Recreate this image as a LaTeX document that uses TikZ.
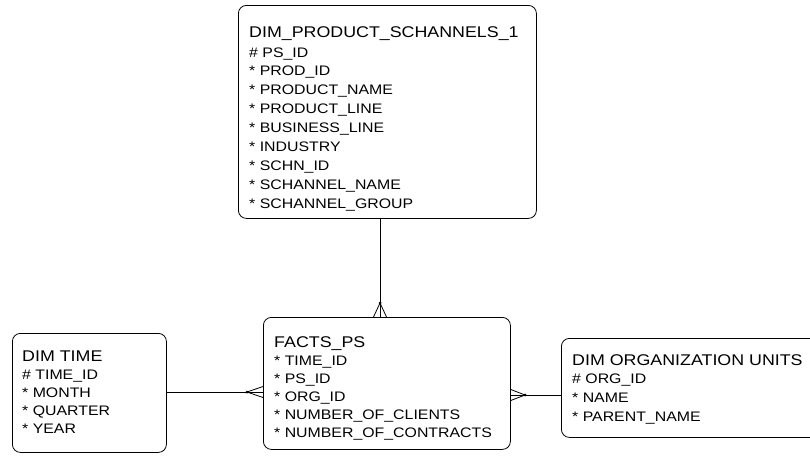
\documentclass[tikz,border=0pt]{standalone}
\usepackage{fontspec}
\newfontfamily\erfont[FakeStretch=1.15]{Liberation Sans}
\usetikzlibrary{calc}

\tikzset{
  entity/.style={draw, rounded corners=8pt, line width=0.8pt, inner sep=0pt, anchor=north west},
  etitle/.style={anchor=base west, inner sep=0pt, font=\erfont\fontsize{15.5}{18}\selectfont},
  efield/.style={anchor=base west, inner sep=0pt, font=\erfont\fontsize{13.8}{18}\selectfont},
  rel/.style={line width=0.8pt},
}

\begin{document}
\begin{tikzpicture}[x=1pt, y=1pt]
    \clip (0,0) rectangle (810,-455);

    % Entities
    \node[entity, minimum width=298pt, minimum height=213pt] (prod) at (238,-5) {};
    \node[entity, minimum width=247pt, minimum height=132pt] (facts) at (263,-317) {};
    \node[entity, minimum width=154pt, minimum height=119pt] (time) at (12,-333) {};
    \node[entity, minimum width=270pt, minimum height=99pt] (org) at (561,-338) {};

    % DIM_PRODUCT_SCHANNELS_1
    \node[etitle] (prodT) at (249,-37) {DIM\_PRODUCT\_SCHANNELS\_1};
    \foreach \f [count=\i] in {\# PS\_ID, * PROD\_ID, * PRODUCT\_NAME, * PRODUCT\_LINE,
        * BUSINESS\_LINE, * INDUSTRY, * SCHN\_ID, * SCHANNEL\_NAME, * SCHANNEL\_GROUP}
      \node[efield] (prodF\i) at (249,{-57-18.9*(\i-1)}) {\f};

    % FACTS_PS
    \node[etitle] (factsT) at (274,-347) {FACTS\_PS};
    \foreach \f [count=\i] in {* TIME\_ID, * PS\_ID, * ORG\_ID, * NUMBER\_OF\_CLIENTS,
        * NUMBER\_OF\_CONTRACTS}
      \node[efield] (factsF\i) at (274,{-365-18.1*(\i-1)}) {\f};

    % DIM TIME
    \node[etitle] (timeT) at (22,-361) {DIM TIME};
    \foreach \f [count=\i] in {\# TIME\_ID, * MONTH, * QUARTER, * YEAR}
      \node[efield] (timeF\i) at (22,{-379-18.3*(\i-1)}) {\f};

    % DIM ORGANIZATION UNITS
    \node[etitle] (orgT) at (572,-365) {DIM ORGANIZATION UNITS};
    \foreach \f [count=\i] in {\# ORG\_ID, * NAME, * PARENT\_NAME}
      \node[efield] (orgF\i) at (572,{-383-19*(\i-1)}) {\f};

    % Relations (crow's foot on FACTS_PS)
    \coordinate (cfTop) at (380,-303);
    \coordinate (ftTop) at (facts.north -| cfTop);
    \draw[rel] (prod.south -| cfTop) -- (ftTop);
    \draw[rel] ($(ftTop)+(-6.5,0)$) -- (cfTop) -- ($(ftTop)+(6.5,0)$);
    \fill (cfTop) circle (1.5pt);

    \coordinate (cfL) at (247,-392);
    \coordinate (ftL) at (cfL -| facts.west);
    \draw[rel] (cfL -| time.east) -- (ftL);
    \draw[rel] ($(ftL)+(0,5.5)$) -- (cfL) -- ($(ftL)+(0,-5.5)$);
    \fill (cfL) circle (1.5pt);

    \coordinate (cfR) at (525,-395);
    \coordinate (ftR) at (cfR -| facts.east);
    \draw[rel] (ftR) -- (cfR -| org.west);
    \draw[rel] ($(ftR)+(0,5.5)$) -- (cfR) -- ($(ftR)+(0,-5.5)$);
    \fill (cfR) circle (1.5pt);
\end{tikzpicture}
\end{document}
